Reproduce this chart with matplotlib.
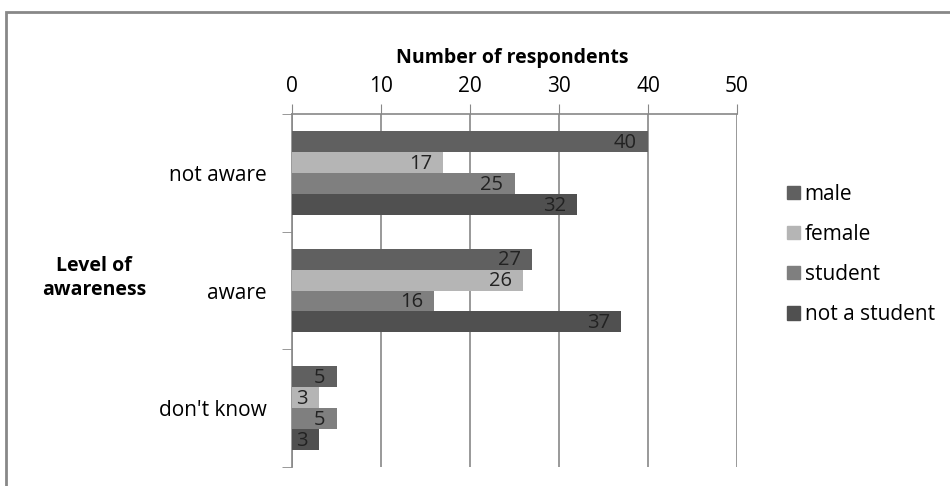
import matplotlib
matplotlib.use("Agg")
import matplotlib.pyplot as plt
import matplotlib.patches as mpatches
import numpy as np

categories = ["not aware", "aware", "don't know"]
series_names = ["male", "female", "student", "not a student"]
male = [40, 27, 5]
female = [17, 26, 3]
student = [25, 16, 5]
not_student = [32, 37, 3]
x_ticks = [0, 10, 20, 30, 40, 50]

colors = ["#606060", "#b5b5b5", "#7f7f7f", "#505050"]
values = [male, female, student, not_student]

plt.rcParams['font.family'] = ['Open Sans', 'DejaVu Sans']

fig = plt.figure(figsize=(9.5, 4.86), dpi=100)
ax = fig.add_axes([292/950, 1-467/486, (737-292)/950, (467-114)/486])

h = 0.178
offsets = [-0.267, -0.089, 0.089, 0.267]
ypos = np.arange(len(categories))
for vals, name, c, off in zip(values, series_names, colors, offsets):
    bars = ax.barh(ypos + off, vals, height=h, color=c, label=name, zorder=3)
    for b, v in zip(bars, vals):
        ax.annotate(str(v), (b.get_width(), b.get_y() + b.get_height()/2),
                    xytext=(-8, -1), textcoords='offset points',
                    ha='right', va='center', fontsize=14.5, color='#222222', zorder=4)

ax.set_xlim(0, 50)
ax.set_ylim(2.5, -0.5)
ax.xaxis.tick_top()
ax.set_xticks(x_ticks)
ax.set_xticklabels([str(t) for t in x_ticks], fontsize=15)
ax.tick_params(axis='x', length=7, color='#888888', pad=5)
ax.grid(axis='x', color='#888888', linewidth=1.2, zorder=0)

ax.set_yticks(ypos)
ax.set_yticklabels(categories, fontsize=15)
ax.tick_params(axis='y', which='major', length=0, pad=18)
ax.set_yticks([-0.5, 0.5, 1.5, 2.5], minor=True)
ax.tick_params(axis='y', which='minor', length=7, color='#888888')

for s in ['right', 'bottom']:
    ax.spines[s].set_visible(False)
for s in ['top', 'left']:
    ax.spines[s].set_color('#888888')
    ax.spines[s].set_linewidth(1.2)

fig.text(512/950, 1-58/486, "Number of respondents", ha='center', va='center',
         fontsize=14, fontweight='bold')
fig.text(94/950, 1-278/486, "Level of\nawareness", ha='center', va='center',
         fontsize=14, fontweight='bold', linespacing=1.25)

handles = [mpatches.Patch(color=c) for c in colors]
fig.legend(handles, series_names, loc='center left',
           bbox_to_anchor=(787/950, 1-254.5/486), frameon=False, fontsize=15,
           handlelength=0.6, handleheight=0.6, handletextpad=0.25, labelspacing=0.92,
           borderpad=0, borderaxespad=0)

border = mpatches.Rectangle((6/950, -0.05), 1.1, 1-12/486+0.05, transform=fig.transFigure,
                            fill=False, edgecolor='#888888', linewidth=2, clip_on=False)
fig.patches.append(border)

fig.savefig("out.png", dpi=100)
